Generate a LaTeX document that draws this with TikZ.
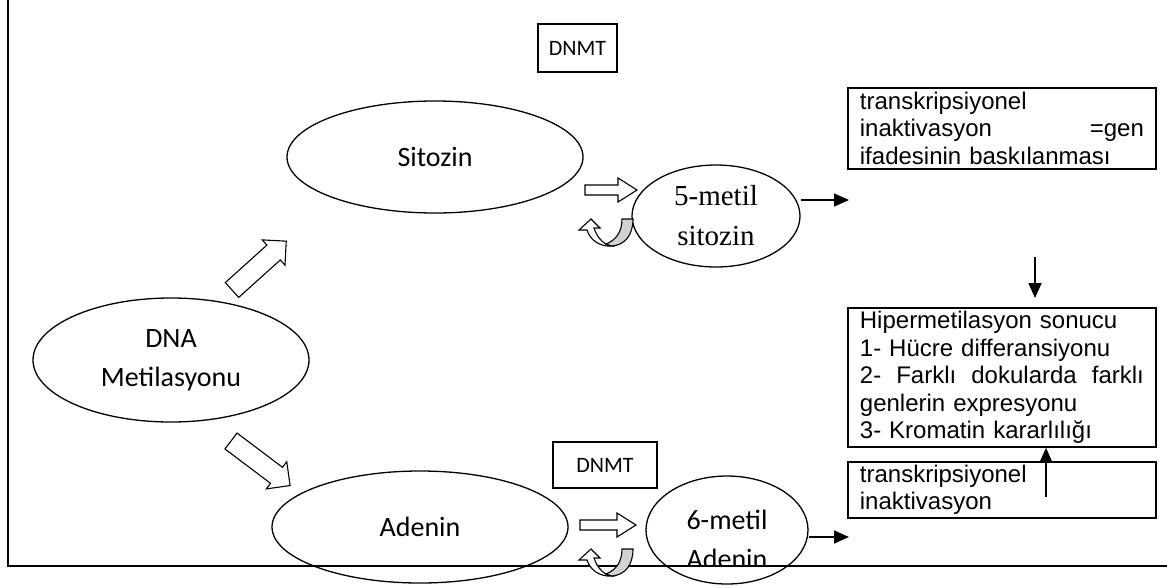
\documentclass[tikz,border=0pt]{standalone}
\usepackage{fontspec}
\setmainfont{Carlito}
\newfontfamily\arialfont{Liberation Sans}
\newfontfamily\timesfont{Liberation Serif}
\usetikzlibrary{arrows.meta,shapes.geometric}

\tikzset{
  oval/.style={draw,ellipse,line width=1.3pt,inner sep=0pt,align=center,
    font=\fontsize{28}{39}\selectfont},
  dnmtbox/.style={draw,line width=1.6pt,inner sep=0pt,font=\fontsize{22}{26}\selectfont},
  textbox/.style={draw,line width=1.8pt,text width=284pt,inner xsep=12pt,inner ysep=0pt,
    align=left,anchor=north west,font=\arialfont\fontsize{24}{27.5}\selectfont},
  blockarrow/.style={-{Triangle[length=15pt,width=13pt]},line width=1.6pt},
  pics/hollowarrow/.style args={#1/#2/#3/#4}{code={
    \draw[line width=1.1pt,fill=white] (0,-#2) -- (#1-#4,-#2) -- (#1-#4,-#3) -- (#1,0)
      -- (#1-#4,#3) -- (#1-#4,#2) -- (0,#2) -- cycle;}},
  pics/turnarrow/.style={code={
    \draw[line width=1.1pt,fill=white] (52,46) .. controls (40,47) and (30,40) .. (27,30)
      -- (19,30) -- (31,19) -- (40,28) -- (34,28) .. controls (37,37) and (42,42) .. (46,44) -- cycle;
    \draw[line width=1.1pt,fill=gray!35] (62,19) -- (73,19) .. controls (73,35) and (65,45) .. (52,46)
      -- (46,44) .. controls (56,40) and (62,32) .. (62,19) -- cycle;}}
}

\begin{document}
\begin{tikzpicture}[x=1pt,y=-1pt]
  \useasboundingbox (0,0) rectangle (1167,587);
  % ---------------- frame
  \draw[line width=2.2pt] (8,0) -- (8,566) -- (1167,566);

  % ---------------- ovals
  \node[oval,minimum width=276pt,minimum height=124pt] (dna) at (171,360) {DNA\\Metilasyonu};
  \node[oval,minimum width=296pt,minimum height=112pt] (sitozin) at (435,157) {Sitozin};
  \node[oval,minimum width=296pt,minimum height=112pt] (adenin) at (420,527) {Adenin};
  \node[oval,minimum width=168pt,minimum height=102pt,font=\timesfont\fontsize{29}{40}\selectfont]
    (metilsitozin) at (716,216) {5-metil\\sitozin};
  \node[oval,minimum width=162pt,minimum height=108pt] (metiladenin) at (727,530) {};
  \begin{scope}
    \clip (640,470) rectangle (815,565);
    \node[align=center,font=\fontsize{28}{39}\selectfont] (metiladeninlabel) at (727,539) {6-metil\\Adenin};
  \end{scope}

  % ---------------- enzyme boxes
  \node[dnmtbox,minimum width=79pt,minimum height=48pt] (dnmtA) at (577.5,48) {DNMT};
  \node[dnmtbox,minimum width=104pt,minimum height=46pt] (dnmtB) at (605,465) {DNMT};

  % ---------------- block arrows
  \pic[rotate=42] at (232,290) {hollowarrow=73/10/17/17};
  \pic[rotate=-37] at (231,441) {hollowarrow=74/10/17/17};
  \pic at (585,190) {hollowarrow=52/5/12/19};
  \pic at (580,525) {hollowarrow=56/5/12/19};
  \pic at (560,200) {turnarrow};
  \pic at (560,530) {turnarrow};

  % ---------------- result boxes
  \node[textbox,minimum height=81pt] (inakt) at (847,87)
    {transkripsiyonel\\inaktivasyon\hfill=gen\\ifadesinin baskılanması};
  \node[textbox,minimum height=139pt] (hiper) at (847,307)
    {Hipermetilasyon sonucu\\1- Hücre differansiyonu\\2-\hfill Farklı\hfill dokularda\hfill farklı\\genlerin expresyonu\\3- Kromatin kararlılığı};
  \node[textbox,minimum height=56pt] (inaktB) at (847,461)
    {transkripsiyonel\\inaktivasyon};

  % ---------------- black arrows
  \coordinate (tipA) at (849,200);
  \coordinate (tipB) at (849,537);
  \coordinate (downstart) at (1035,257);
  \coordinate (downtip) at (1035,298);
  \coordinate (upstart) at (1046,497);
  \draw[blockarrow] (metilsitozin.east |- tipA) -- (tipA);
  \draw[blockarrow] (metiladenin.east |- tipB) -- (tipB);
  \draw[blockarrow] (downstart) -- (downtip);
  \draw[blockarrow] (upstart) -- (upstart |- hiper.south);
\end{tikzpicture}
\end{document}
